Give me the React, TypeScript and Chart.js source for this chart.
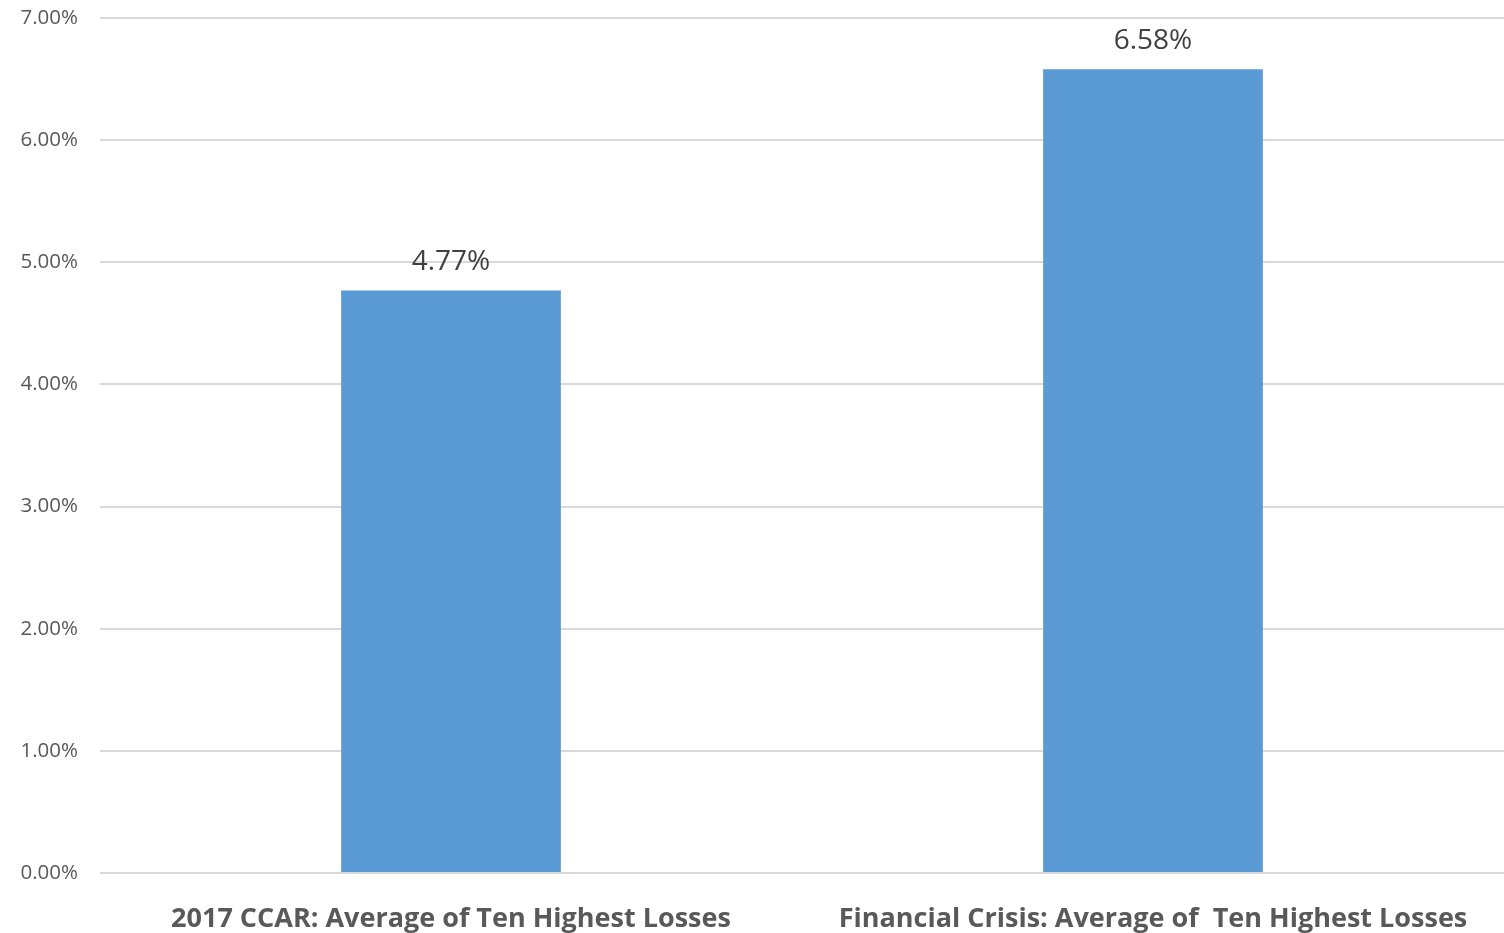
import React, { useEffect, useRef } from "react";
import { Chart, registerables } from "chart.js";

Chart.register(...registerables);

const categories = [
  "2017 CCAR: Average of Ten Highest Losses",
  "Financial Crisis: Average of  Ten Highest Losses",
];
const values = [4.77, 6.58];
const valueLabels = ["4.77%", "6.58%"];

const FONT = "'Open Sans', 'Noto Sans', sans-serif";

const dataLabelPlugin = {
  id: "dataLabels",
  afterDatasetsDraw(chart: any) {
    const ctx = chart.ctx;
    const meta = chart.getDatasetMeta(0);
    ctx.save();
    ctx.font = `28px ${FONT}`;
    ctx.fillStyle = "#404040";
    ctx.textAlign = "center";
    ctx.textBaseline = "middle";
    meta.data.forEach((bar: any, i: number) => {
      ctx.fillText(valueLabels[i], bar.x, bar.y - 28);
    });
    ctx.restore();
  },
};

export default function App() {
  const ref = useRef<HTMLCanvasElement | null>(null);
  useEffect(() => {
    document.body.style.margin = "0";
    const chart = new Chart(ref.current!, {
      type: "bar",
      data: {
        labels: categories,
        datasets: [
          {
            data: values,
            backgroundColor: "#5B9BD5",
            barPercentage: 0.626,
            categoryPercentage: 0.5,
          },
        ],
      },
      options: {
        animation: false,
        responsive: false,
        layout: { padding: { top: 18, right: 0, left: 0, bottom: 0 } },
        plugins: { legend: { display: false }, tooltip: { enabled: false } },
        scales: {
          x: {
            afterFit(scale: any) {
              scale.height = 60;
            },
            grid: { display: false },
            border: { display: false },
            ticks: {
              color: "#595959",
              font: { family: FONT, size: 27, weight: "bold" },
              padding: 22,
              maxRotation: 0,
            },
          },
          y: {
            min: 0,
            max: 7,
            afterFit(scale: any) {
              scale.width = 100;
              scale.paddingTop = 0;
              scale.paddingBottom = 0;
            },
            border: { display: false },
            grid: { color: "#d9d9d9", lineWidth: 2, drawTicks: false },
            ticks: {
              stepSize: 1,
              color: "#595959",
              font: { family: FONT, size: 20.5 },
              padding: 22,
              callback: (v: any) => Number(v).toFixed(2) + "%",
            },
          },
        },
      },
      plugins: [dataLabelPlugin],
    });
    return () => chart.destroy();
  }, []);
  return (
    <div style={{ width: 1504, height: 933 }}>
      <canvas ref={ref} width={1504} height={933} />
    </div>
  );
}
